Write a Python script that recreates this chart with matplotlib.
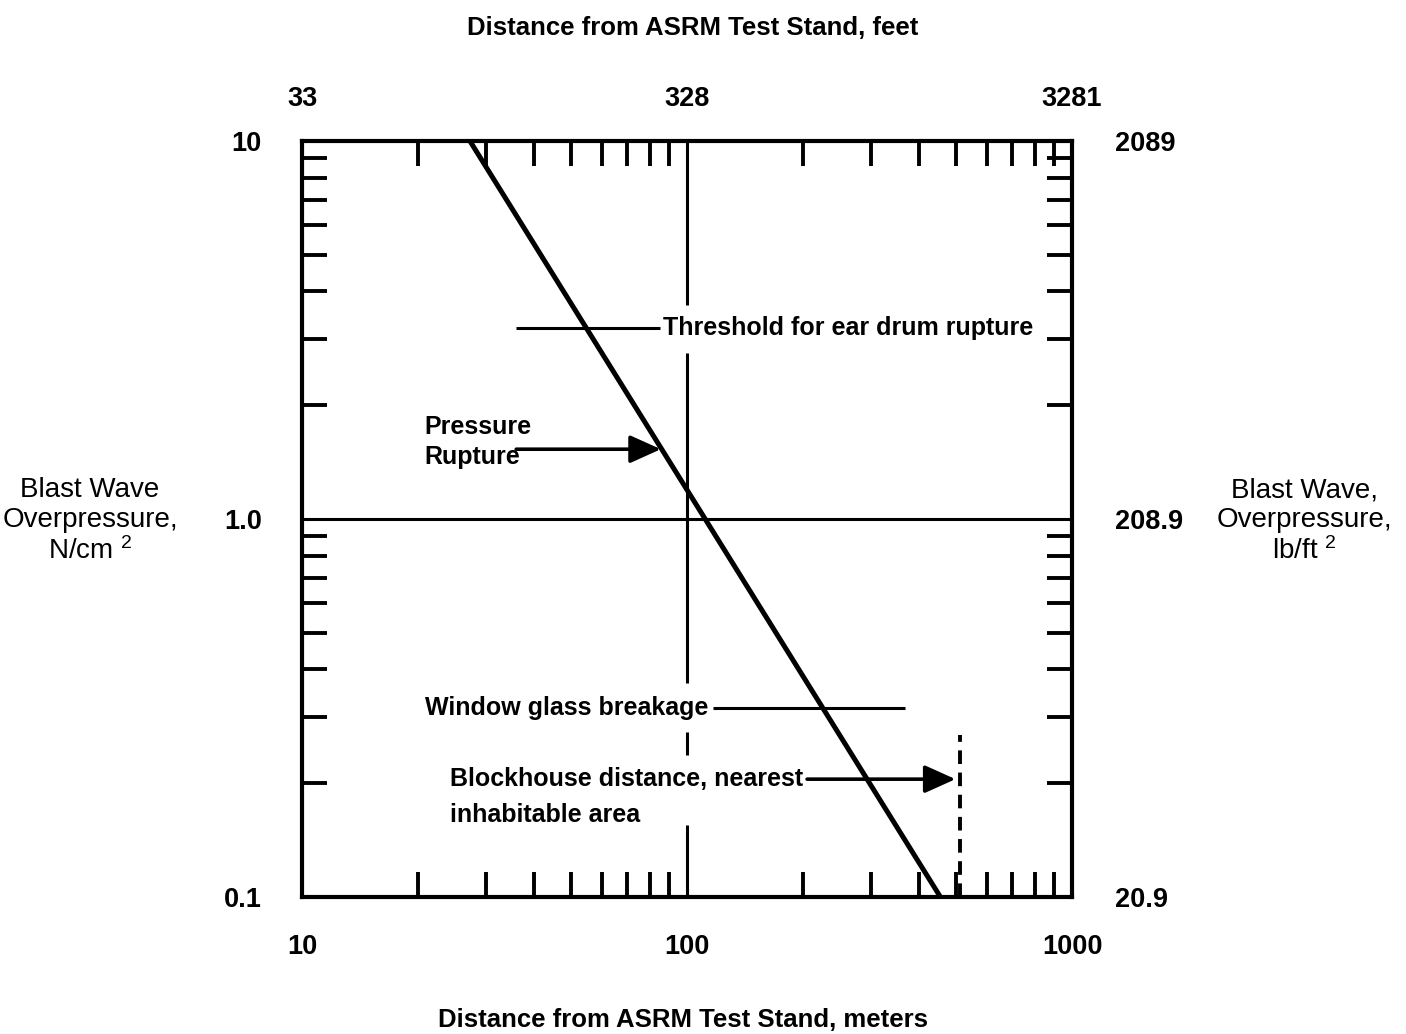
import matplotlib
matplotlib.use("Agg")
import matplotlib.pyplot as plt
from matplotlib.ticker import LogLocator, NullFormatter, FixedLocator, FixedFormatter, NullLocator

plt.rcParams["font.family"] = ["Liberation Sans", "DejaVu Sans"]
plt.rcParams["mathtext.fontset"] = "custom"
plt.rcParams["mathtext.rm"] = "Liberation Sans"
plt.rcParams["mathtext.it"] = "Liberation Sans:italic"
plt.rcParams["mathtext.bf"] = "Liberation Sans:bold"

# Overpressure decay with distance (meters, N/cm^2)
curve_distance_m = [27.3, 455.0]
curve_pressure = [10.0, 0.1]

# Damage thresholds
eardrum_pressure = 3.2
eardrum_span_m = [36.0, 85.0]
pressure_rupture_level = 1.53
pressure_rupture_span_m = [36.0, 85.5]
glass_pressure = 0.316
glass_span_m = [117.0, 368.0]
blockhouse_pressure = 0.205
blockhouse_span_m = [205.0, 498.0]
blockhouse_distance_m = 512.0
blockhouse_marker_top = 0.268

# Axis tick labels
meter_ticks = [10, 100, 1000]
meter_labels = ["10", "100", "1000"]
feet_labels = ["33", "328", "3281"]
pressure_ticks = [0.1, 1.0, 10]
pressure_labels = ["0.1", "1.0", "10"]
psf_labels = ["20.9", "208.9", "2089"]

M_TO_FT = 3.28084
NCM2_TO_PSF = 208.854

fig = plt.figure(figsize=(14.06, 10.34), dpi=100)
ax = fig.add_axes([0.2148, 0.1325, 0.5477, 0.7311])
ax.set_xscale("log")
ax.set_yscale("log")
ax.set_xlim(10, 1000)
ax.set_ylim(0.1, 10)

for s in ax.spines.values():
    s.set_linewidth(3.0)

# Minor ticks on all four sides, pointing inward
ax.xaxis.set_minor_locator(LogLocator(base=10, subs=range(2, 10)))
ax.yaxis.set_minor_locator(LogLocator(base=10, subs=range(2, 10)))
ax.xaxis.set_minor_formatter(NullFormatter())
ax.yaxis.set_minor_formatter(NullFormatter())
ax.tick_params(which="minor", direction="in", length=18, width=2.8,
               top=True, right=True, bottom=True, left=True)
ax.xaxis.set_major_locator(FixedLocator(meter_ticks))
ax.xaxis.set_major_formatter(FixedFormatter(meter_labels))
ax.yaxis.set_major_locator(FixedLocator(pressure_ticks))
ax.yaxis.set_major_formatter(FixedFormatter(pressure_labels))
ax.tick_params(which="major", length=0, labelsize=19.5)
ax.tick_params(axis="x", which="major", pad=27)
ax.tick_params(axis="y", which="major", pad=29)
for lab in ax.get_xticklabels() + ax.get_yticklabels():
    lab.set_fontweight("bold")

# Secondary scales: feet on top, lb/ft^2 on the right
top = ax.secondary_xaxis("top", functions=(lambda x: x * M_TO_FT, lambda x: x / M_TO_FT))
top.xaxis.set_major_locator(FixedLocator([v * M_TO_FT for v in meter_ticks]))
top.xaxis.set_major_formatter(FixedFormatter(feet_labels))
top.xaxis.set_minor_locator(NullLocator())
top.tick_params(length=0, labelsize=19.5, pad=21)
top.spines["top"].set_visible(False)
for lab in top.get_xticklabels():
    lab.set_fontweight("bold")

right = ax.secondary_yaxis("right", functions=(lambda y: y * NCM2_TO_PSF, lambda y: y / NCM2_TO_PSF))
right.yaxis.set_major_locator(FixedLocator([v * NCM2_TO_PSF for v in pressure_ticks]))
right.yaxis.set_major_formatter(FixedFormatter(psf_labels))
right.yaxis.set_minor_locator(NullLocator())
right.tick_params(length=0, labelsize=19.5, pad=31)
right.spines["right"].set_visible(False)
for lab in right.get_yticklabels():
    lab.set_fontweight("bold")

# Reference lines at 100 m and 1.0 N/cm^2
ax.axhline(1.0, color="black", lw=2.2, zorder=2)
ref_segments = [(3.68, 10.0), (0.368, 2.75), (0.238, 0.274), (0.1, 0.155)]
for y0, y1 in ref_segments:
    ax.vlines(100, y0, y1, color="black", lw=2.2, zorder=2)

# Blast wave overpressure curve
ax.plot(curve_distance_m, curve_pressure, color="black", lw=3.6, solid_capstyle="butt", zorder=3)

txt = dict(fontsize=18, fontweight="bold", color="black")
arrow_style = "-|>,head_length=1.0,head_width=0.45"

# Ear drum threshold
ax.hlines(eardrum_pressure, *eardrum_span_m, color="black", lw=2.2)
ax.text(86.5, eardrum_pressure, "Threshold for ear drum rupture", ha="left", va="center", **txt)

# Pressure rupture
ax.annotate("", xy=(pressure_rupture_span_m[1], pressure_rupture_level),
            xytext=(pressure_rupture_span_m[0], pressure_rupture_level),
            arrowprops=dict(arrowstyle=arrow_style, mutation_scale=19, lw=2.6,
                            color="black", shrinkA=0, shrinkB=0))
ax.text(20.8, 1.60, "Pressure\nRupture", ha="left", va="center", linespacing=1.3, **txt)

# Window glass breakage
ax.hlines(glass_pressure, *glass_span_m, color="black", lw=2.2)
ax.text(20.9, glass_pressure, "Window glass breakage", ha="left", va="center", **txt)

# Blockhouse
ax.annotate("", xy=(blockhouse_span_m[1], blockhouse_pressure),
            xytext=(blockhouse_span_m[0], blockhouse_pressure),
            arrowprops=dict(arrowstyle=arrow_style, mutation_scale=19, lw=2.6,
                            color="black", shrinkA=0, shrinkB=0))
ax.text(24.2, blockhouse_pressure, "Blockhouse distance, nearest", ha="left", va="center", **txt)
ax.text(24.2, 0.165, "inhabitable area", ha="left", va="center", **txt)
ax.vlines(blockhouse_distance_m, 0.1, blockhouse_marker_top, color="black", lw=2.8,
          linestyles=(0, (3.5, 2.2)))

# Axis titles
fig.text(0.493, 0.973, "Distance from ASRM Test Stand, feet", ha="center", va="center",
         fontsize=18.5, fontweight="bold")
fig.text(0.486, 0.014, "Distance from ASRM Test Stand, meters", ha="center", va="center",
         fontsize=18.5, fontweight="bold")
fig.text(0.064, 0.496, "Blast Wave\nOverpressure,\nN/cm $^2$", ha="center", va="center",
         fontsize=20, linespacing=1.2)
fig.text(0.928, 0.496, "Blast Wave,\nOverpressure,\nlb/ft $^2$", ha="center", va="center",
         fontsize=20, linespacing=1.2)

fig.savefig("out.png", dpi=100, facecolor="white")
